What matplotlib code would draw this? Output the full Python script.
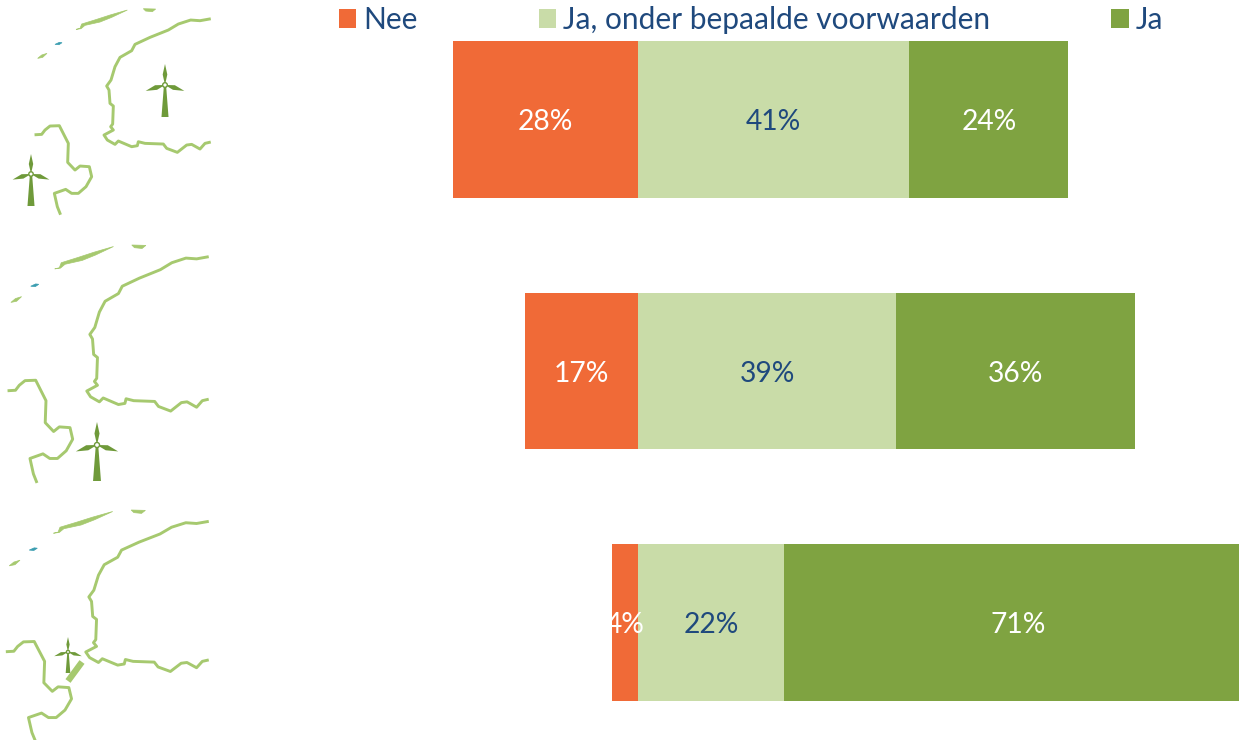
import matplotlib
matplotlib.use('Agg')
import matplotlib.pyplot as plt
from matplotlib.patches import Circle, Polygon

plt.rcParams['font.family'] = ['Lato', 'DejaVu Sans']

# Chart values (percent), one entry per row
rows = [0, 1, 2]
nee = [28, 17, 4]
ja_voorwaarden = [41, 39, 22]
ja = [24, 36, 71]
series_labels = ['Nee', 'Ja, onder bepaalde voorwaarden', 'Ja']

ORANGE = '#f06a37'
LIGHT_GREEN = '#c9dca8'
GREEN = '#7fa341'
TEXT_BLUE = '#1f497d'
MAP_GREEN = '#a6c96f'
TURBINE_GREEN = '#6f9a3a'

# Map sketch (zoomed crop coordinates)
coast_main = [(628, 57), (600, 62), (572, 60), (535, 72), (505, 90), (450, 112), (405, 133),
              (395, 152), (360, 172), (345, 200), (333, 240), (320, 258), (327, 270), (330, 310),
              (340, 318), (338, 372), (332, 380), (340, 390), (312, 405), (322, 420), (345, 433),
              (355, 423), (395, 440), (412, 437), (415, 425), (435, 430), (490, 432), (500, 445),
              (532, 457), (560, 435), (575, 433), (600, 447), (615, 430), (628, 427)]
coast_south = [(108, 404), (125, 403), (135, 390), (150, 378), (178, 377), (205, 430), (203, 487),
               (225, 510), (240, 498), (268, 500), (275, 530), (258, 560), (235, 580), (215, 580),
               (197, 568), (163, 580), (172, 620), (180, 640)]
island_long = [(228, 88), (240, 85), (245, 72), (290, 58), (330, 45), (382, 30), (335, 52),
               (300, 66), (255, 76), (243, 86)]
island_top = [(430, 26), (467, 27), (457, 35), (437, 33)]
island_small = [(113, 175), (125, 165), (141, 160), (128, 172)]
island_teal = [(165, 133), (178, 127), (186, 128), (177, 134)]

# Panel placement: x0, y0 offset and x, y scale of the traced sketch
panels = [
    {'left': 36, 'top': 8.7, 'sx': 1 / 3, 'sy': 1 / 3, 'crop_x': 108, 'crop_y': 26},
    {'left': 9, 'top': 245, 'sx': 1.144 / 3, 'sy': 1.156 / 3, 'crop_x': 108, 'crop_y': 26},
    {'left': 7.3, 'top': 510, 'sx': 1.154 / 3, 'sy': 1.124 / 3, 'crop_x': 108, 'crop_y': 26},
]

# Turbines as hub x, hub y, top y, bottom y in image pixels
turbines = [(165, 85, 64, 117), (31, 174, 154, 206), (97, 445, 422, 481), (68, 652, 637, 673)]


def to_panel(points, panel):
    """Moves traced sketch points into the place of one panel."""
    return [(panel['left'] + (x - panel['crop_x']) * panel['sx'],
             panel['top'] + (y - panel['crop_y']) * panel['sy']) for x, y in points]


def draw_turbine(ax, hub_x, hub_y, top_y, bottom_y):
    """Draws a small wind turbine with a tower, three blades and a hub."""
    up = hub_y - top_y
    down = bottom_y - hub_y
    tower_w = down * 0.11
    ax.add_patch(Polygon([(hub_x - tower_w * 0.3, hub_y), (hub_x + tower_w * 0.3, hub_y),
                          (hub_x + tower_w, bottom_y), (hub_x - tower_w, bottom_y)],
                         color=TURBINE_GREEN, lw=0))
    blade_w = up * 0.11
    ax.add_patch(Polygon([(hub_x, hub_y), (hub_x - blade_w, hub_y - up * 0.5), (hub_x, top_y),
                          (hub_x + blade_w, hub_y - up * 0.5)], color=TURBINE_GREEN, lw=0))
    for side in [-1, 1]:
        ax.add_patch(Polygon([(hub_x, hub_y), (hub_x + side * up * 0.47, hub_y + up * 0.01),
                              (hub_x + side * up * 0.92, hub_y + up * 0.28),
                              (hub_x + side * up * 0.38, hub_y + up * 0.23)],
                             color=TURBINE_GREEN, lw=0))
    ax.add_patch(Circle((hub_x, hub_y), up * 0.11, facecolor='white',
                        edgecolor=TURBINE_GREEN, lw=1, zorder=3))


fig = plt.figure(figsize=(12.39, 7.4), dpi=100)
ax = fig.add_axes([0, 0, 1, 1])

# Diverging stacked bars around the zero line
bar_height = 0.624
left_nee = [-v for v in nee]
bars_nee = ax.barh(rows, nee, left=left_nee, height=bar_height, color=ORANGE, label=series_labels[0])
bars_mid = ax.barh(rows, ja_voorwaarden, height=bar_height, color=LIGHT_GREEN, label=series_labels[1])
bars_ja = ax.barh(rows, ja, left=ja_voorwaarden, height=bar_height, color=GREEN, label=series_labels[2])

# Zero sits at pixel 638, one percent is 6.62 pixels
ax.set_xlim(-638 / 6.62, (1239 - 638) / 6.62)
ax.set_ylim((740 - 119.5) / 251.5, -119.5 / 251.5)
ax.axis('off')

# Labels at the true bar centres, the last bar runs past the edge of the picture
for i in rows:
    for start, value, colour in [(-nee[i], nee[i], 'white'),
                                 (0, ja_voorwaarden[i], TEXT_BLUE),
                                 (ja_voorwaarden[i], ja[i], 'white')]:
        ax.annotate(f'{value}%', (start + value / 2, i), xytext=(0, -2), textcoords='offset points',
                    ha='center', va='center', color=colour, fontsize=20.3)

ax.legend(loc='center left', bbox_to_anchor=(339 / 1239, 1 - 20 / 740), bbox_transform=fig.transFigure,
          ncol=3, frameon=False, fontsize=21.5, labelcolor=TEXT_BLUE, borderpad=0, borderaxespad=0,
          handlelength=0.58, handleheight=0.6, handletextpad=0.24, columnspacing=4.05)

# Overlay in image pixels for the map sketches
map_ax = fig.add_axes([0, 0, 1, 1], facecolor='none')
map_ax.set_xlim(0, 1239)
map_ax.set_ylim(740, 0)
map_ax.axis('off')

for panel in panels:
    for line in [coast_main, coast_south]:
        pts = to_panel(line, panel)
        map_ax.plot([p[0] for p in pts], [p[1] for p in pts], color=MAP_GREEN, lw=2.1)
    for shape in [island_long, island_top, island_small]:
        map_ax.add_patch(Polygon(to_panel(shape, panel), color=MAP_GREEN, lw=0.5))
    map_ax.add_patch(Polygon(to_panel(island_teal, panel), color='#3a9db0', lw=0.5))

for turbine in turbines:
    draw_turbine(map_ax, *turbine)

# Dam in the lower panel
map_ax.plot([68, 82], [681, 662], color=MAP_GREEN, lw=4.5, solid_capstyle='butt')

fig.savefig('out.png', dpi=100)
